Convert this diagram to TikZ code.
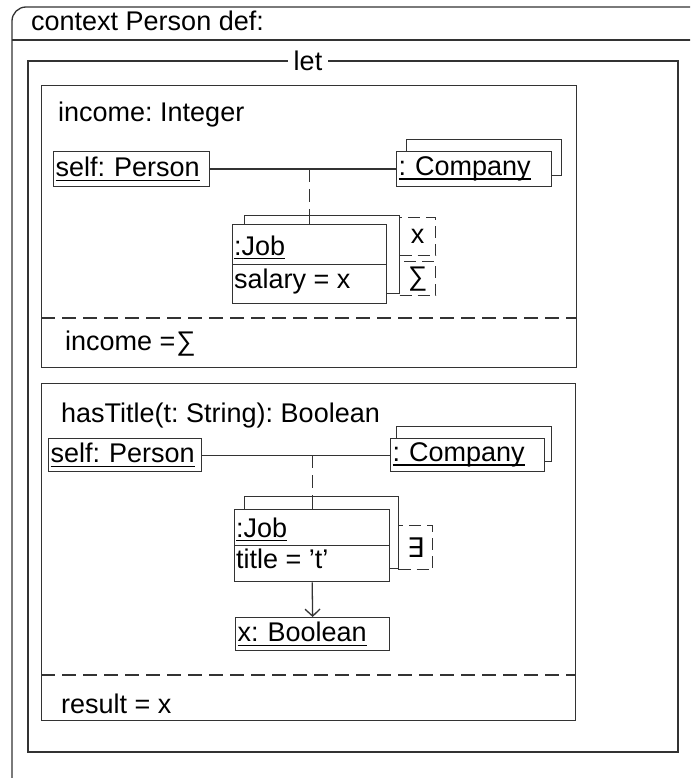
\documentclass[tikz,border=0pt]{standalone}
\usepackage{fontspec}
\setmainfont{Liberation Sans}
\newfontfamily\symfam{DejaVu Sans}
\usetikzlibrary{arrows.meta}
% underline at a fixed depth below the baseline
\newcommand\undl[1]{\setbox0\hbox{#1}\rlap{\rule[-4pt]{\wd0}{1.3pt}}\box0}
\tikzset{
  ln/.style={draw=black!80, line width=1.3pt},
  frame/.style={draw=black!80, line width=1.3pt},
  obj/.style={draw=black!80, fill=white, line width=1.3pt, inner xsep=2pt,
    inner ysep=0pt, anchor=north west, align=left},
  area/.style={draw=black!80, line width=1.3pt, inner sep=0pt, anchor=north west},
  dbox/.style={draw=black!80, line width=1.3pt, dash pattern=on 12pt off 6pt,
    inner sep=0pt, anchor=north west},
  sepline/.style={draw=black!80, line width=1.3pt, dash pattern=on 14pt off 7pt},
  vdash/.style={draw=black!80, line width=1.3pt, dash pattern=on 13pt off 7pt},
  lbl/.style={anchor=base west, inner sep=0pt},
  arr/.style={ln, -{Straight Barb[length=7pt,width=15pt,line width=1.3pt]}}
}
\begin{document}
\frenchspacing
\begin{tikzpicture}[x=1pt,y=-1pt,font=\fontsize{27}{32}\selectfont\frenchspacing]
\useasboundingbox (0,0) rectangle (690,778);
\clip (0,0) rectangle (690,778);

% context frame
\draw[frame, rounded corners=14pt] (12,7) rectangle (720,810);
\draw[frame] (12,40) -- (720,40);
\node[lbl] (ctx) at (31,31) {context Person def:};

% let frame
\draw[frame] (28,61) rectangle (678,752);
\node[fill=white, inner xsep=6pt, inner ysep=0pt] (letlbl) at (308,61) {let};

% ---- income: Integer ----
\node[area, minimum width=535pt, minimum height=282pt] (defA) at (41,85) {};
\node[lbl] (incTitle) at (58,122) {income: Integer};
\draw[sepline] (41,318) -- (576,318);
\node[lbl] (incRes) at (65,350) {income =\kern1pt ∑};

\node[obj, text width=152pt, minimum height=35pt] (selfA) at (53,151) {\undl{self: Person}};
\node[obj, text width=151pt, minimum height=36pt] (compA2) at (406,139) {};
\node[obj, text width=151pt, minimum height=35pt] (compA) at (396,151) {\undl{: Company}};

\node[dbox, minimum width=36pt, minimum height=38pt] (xbox) at (399,217) {x};
\node[dbox, minimum width=36pt, minimum height=34pt] (sumbox) at (399,261) {∑};
\node[obj, text width=151pt, minimum height=78pt] (jobA2) at (244,215) {};
\node[obj, text width=150pt, minimum height=79pt] (jobA) at (232,224) {};
\draw[ln] (jobA.west) -- (jobA.east);
\node[lbl] (jobAname) at (234,255) {\undl{:Job}};
\node[lbl] (jobAattr) at (234,288) {salary = x};

\draw[ln] (selfA.east) -- (compA.west);
\coordinate (assocA) at (jobA.north |- selfA.east);
\draw[vdash] (assocA) -- (jobA2.north -| assocA);
\draw[ln] (jobA2.north -| assocA) -- (jobA.north);

% ---- hasTitle(t: String): Boolean ----
\node[area, minimum width=534pt, minimum height=337pt] (defB) at (41,383) {};
\node[lbl] (hasTitle) at (61,422) {hasTitle(t: String): Boolean};
\draw[sepline] (41,675) -- (575,675);
\node[lbl] (resB) at (61,713) {result = x};

\node[obj, text width=149pt, minimum height=33pt] (selfB) at (48,438) {\undl{self: Person}};
\node[obj, text width=151pt, minimum height=35pt] (compB2) at (396,426) {};
\node[obj, text width=150pt, minimum height=33pt] (compB) at (390,438) {\undl{: Company}};

\node[dbox, minimum width=34pt, minimum height=44pt] (exbox) at (398,525) {{\symfam ∃}};
\node[obj, text width=150pt, minimum height=72pt] (jobB2) at (244,496) {};
\node[obj, text width=151pt, minimum height=72pt] (jobB) at (234,509) {};
\draw[ln] (jobB.west) -- (jobB.east);
\node[lbl] (jobBname) at (236,537) {\undl{:Job}};
\node[lbl] (jobBattr) at (236,568) {title = 't'};

\node[obj, text width=150pt, minimum height=33pt] (xB) at (235,617) {\undl{x: Boolean}};

\draw[ln] (selfB.east) -- (compB.west);
\coordinate (assocB) at (jobB.north |- selfB.east);
\draw[vdash] (assocB) -- (jobB2.north -| assocB);
\draw[ln] (jobB2.north -| assocB) -- (jobB.north);
\draw[arr] (jobB.south) -- (xB.north);
\end{tikzpicture}
\end{document}
